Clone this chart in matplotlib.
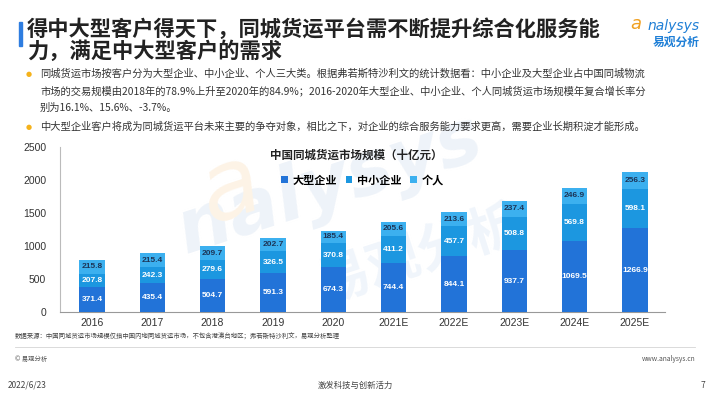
import matplotlib
matplotlib.use("Agg")
import matplotlib.pyplot as plt
import numpy as np

plt.rcParams['font.family'] = ['Noto Sans CJK SC', 'DejaVu Sans']

# --- dados ---
anos = ['2016', '2017', '2018', '2019', '2020', '2021E', '2022E', '2023E', '2024E', '2025E']
grande = [371.4, 435.4, 504.7, 591.3, 674.3, 744.4, 844.1, 937.7, 1069.5, 1266.9]
pme = [207.8, 242.3, 279.6, 326.5, 370.8, 411.2, 457.7, 508.8, 569.8, 598.1]
pessoal = [215.8, 215.4, 209.7, 202.7, 185.4, 205.6, 213.6, 237.4, 246.9, 256.3]
series_nomes = ['大型企业', '中小企业', '个人']
yticks = [0, 500, 1000, 1500, 2000, 2500]

cores = ['#2273d8', '#1c97e0', '#3cb0ef']
W, H = 710, 399

fig = plt.figure(figsize=(7.1, 3.99), dpi=100)
fig.patch.set_facecolor('white')

# fundo com marca d'agua (atras do grafico)
bg = fig.add_axes([0, 0, 1, 1], zorder=0)
bg.set_axis_off()
bg.set_xlim(0, W)
bg.set_ylim(H, 0)
bg.text(330, 185, 'nalysys', fontsize=54, color='#eef3f9', rotation=18,
        ha='center', va='center', fontweight='bold', style='italic', family=['DejaVu Sans'])
bg.text(230, 190, 'a', fontsize=70, color='#fdf3e6', rotation=18,
        ha='center', va='center', style='italic', family=['DejaVu Sans'])
bg.text(420, 255, '易观分析', fontsize=38, color='#f0f5fb', rotation=18,
        ha='center', va='center', fontweight='bold')

# --- cabecalho ---
bg.add_patch(plt.Rectangle((19, 22), 3, 24, color='#2e7de0'))
bg.text(27, 29, '得中大型客户得天下，同城货运平台需不断提升综合化服务能',
        fontsize=15.3, fontweight='bold', color='#222222', va='center')
bg.text(27, 51, '力，满足中大型客户的需求',
        fontsize=15.3, fontweight='bold', color='#222222', va='center')

bg.text(700, 26, 'nalysys', fontsize=10, style='italic', color='#1f7fd6',
        ha='right', va='center', family=['DejaVu Sans'])
bg.text(641, 24, 'a', fontsize=13, style='italic', color='#f0a020',
        ha='right', va='center', family=['DejaVu Sans'])
bg.text(700, 42, '易观分析', fontsize=8.5, fontweight='bold', color='#1f7fd6',
        ha='right', va='center')

bullets = [
    (74, '同城货运市场按客户分为大型企业、中小企业、个人三大类。根据弗若斯特沙利文的统计数据看：中小企业及大型企业占中国同城物流', True),
    (91, '市场的交易规模由2018年的78.9%上升至2020年的84.9%；2016-2020年大型企业、中小企业、个人同城货运市场规模年复合增长率分', False),
    (108, '别为16.1%、15.6%、-3.7%。', False),
    (127, '中大型企业客户将成为同城货运平台未来主要的争夺对象，相比之下，对企业的综合服务能力要求更高，需要企业长期积淀才能形成。', True),
]
for y, txt, ponto in bullets:
    if ponto:
        bg.text(29, y, '●', fontsize=5, color='#f5b21b', ha='center', va='center',
                family=['DejaVu Sans'])
    bg.text(40, y, txt, fontsize=7.4, color='#333333', va='center')

# --- grafico ---
ax = fig.add_axes([60 / W, 1 - 312 / H, 605 / W, 165 / H], zorder=1)
ax.set_facecolor('none')
x = np.arange(len(anos))
largura = 0.42
base = np.zeros(len(anos))
for i, (vals, cor) in enumerate(zip([grande, pme, pessoal], cores)):
    ax.bar(x, vals, largura, bottom=base, color=cor, label=series_nomes[i], zorder=3)
    for xi, v, b0 in zip(x, vals, base):
        ax.text(xi, b0 + v / 2, f'{v:.1f}', ha='center', va='center', fontsize=6,
                fontweight='bold', color='#1d3557' if i == 2 else 'white', zorder=4,
                family=['Liberation Sans', 'DejaVu Sans'])
    base = base + np.array(vals)

ax.set_xlim(-0.53, 9.5)
ax.set_ylim(0, 2500)
ax.set_yticks(yticks)
ax.set_xticks(x)
ax.set_xticklabels(anos)
ax.tick_params(axis='both', length=0, labelsize=7.5, colors='#333333')
ax.tick_params(axis='y', pad=10)
ax.tick_params(axis='x', pad=4)
for lbl in ax.get_xticklabels() + ax.get_yticklabels():
    lbl.set_family(['Liberation Sans', 'DejaVu Sans'])
for s in ['top', 'right']:
    ax.spines[s].set_visible(False)
ax.spines['left'].set_color('#bbbbbb')
ax.spines['bottom'].set_color('#999999')

ax.text(0.49, 0.95, '中国同城货运市场规模（十亿元）', transform=ax.transAxes,
        ha='center', va='center', fontsize=8.3, fontweight='bold', color='#222222')
ax.legend(loc='center', bbox_to_anchor=(0.5, 0.8), ncol=3, frameon=False,
          handlelength=0.6, handleheight=0.6, handletextpad=0.4, columnspacing=0.8,
          prop={'size': 8, 'weight': 'bold'})

# --- rodape ---
bg.text(15, 337, '数据来源：中国同城货运市场规模仅指中国内地同城货运市场，不包含港澳台地区；弗若斯特沙利文，易观分析整理',
        fontsize=4.6, color='#444444', va='center')
bg.plot([15, 695], [347, 347], color='#d5d5d5', lw=0.6)
bg.text(15, 359, '© 易观分析', fontsize=4.6, color='#555555', va='center')
bg.text(695, 359, 'www.analysys.cn', fontsize=4.8, color='#555555', va='center', ha='right')
bg.text(8, 385, '2022/6/23', fontsize=6, color='#444444', va='center')
bg.text(355, 385, '激发科技与创新活力', fontsize=6, color='#444444', va='center', ha='center')
bg.text(705, 385, '7', fontsize=6, color='#444444', va='center', ha='right')

plt.savefig('out.png', dpi=100, facecolor='white')
